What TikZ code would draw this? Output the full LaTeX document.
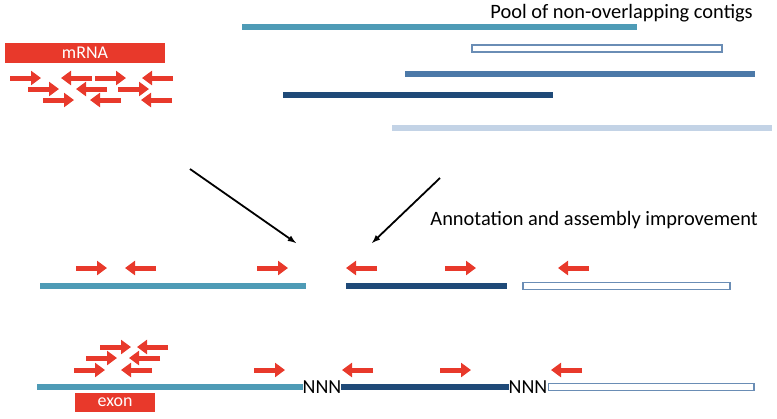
\documentclass[tikz,border=0pt]{standalone}
\usepackage{fontspec}
\setmainfont{Carlito}
\usetikzlibrary{arrows.meta}

\definecolor{readred}{HTML}{E8392B}
\definecolor{tealc}{HTML}{4E9BB6}
\definecolor{midc}{HTML}{4C79A8}
\definecolor{darkc}{HTML}{1F4A78}
\definecolor{lightc}{HTML}{C3D3E6}
\definecolor{rimc}{HTML}{6A8DB5}

\tikzset{
  read/.style={draw=readred, line width=5bp, -{Triangle[width=14bp,length=10bp]}},
  contig/.style={line width=6bp},
  hollow/.style={draw=rimc, fill=white, line width=1.3bp},
  label/.style={font=\fontsize{20.5}{22}\selectfont, inner sep=0pt},
  redbox/.style={fill=readred, text=white, inner sep=0pt, font=\fontsize{18}{20}\selectfont},
  gap/.style={font=\fontsize{20}{22}\selectfont, inner sep=0pt},
}

% a read pointing right or left, from its tail
\newcommand{\fwd}[2]{\draw[read] (#1,#2) -- ++(31,0);}
\newcommand{\rev}[2]{\draw[read] (#1,#2) -- ++(-31,0);}

\begin{document}
\begin{tikzpicture}[x=1bp,y=-1bp]
    \useasboundingbox (0,0) rectangle (777,418);

    % pool of contigs
    \node[label, anchor=base east] (pool) at (753,18) {Pool of non-overlapping contigs};
    \draw[contig, tealc] (242,27) -- (637,27);
    \draw[hollow] (472,45) rectangle (722,52);
    \draw[contig, midc] (405,74) -- (755,74);
    \draw[contig, darkc] (283,95) -- (553,95);
    \draw[contig, lightc] (392,128) -- (772,128);

    % mRNA and its reads
    \node[redbox, minimum width=160bp, minimum height=20bp] (mrna) at (85,53) {mRNA};
    \fwd{10}{78} \rev{92}{78} \fwd{95}{78} \rev{173}{78}
    \fwd{28}{89} \rev{107}{89} \fwd{118}{89}
    \fwd{43}{100} \rev{121}{100} \rev{172}{100}

    % arrows down
    \coordinate (s1) at (190,169);
    \coordinate (e1) at (296,243);
    \coordinate (s2) at (440,178);
    \coordinate (e2) at (372,243);
    \draw[->,>= latex, line width=1.8bp] (s1) -- (e1);
    \draw[->,>= latex, line width=1.8bp] (s2) -- (e2);
    \node[label, anchor=base east] (improve) at (758,225) {Annotation and assembly improvement};

    % annotated contigs
    \draw[contig, tealc] (40,286) -- (306,286);
    \draw[contig, darkc] (346,286) -- (507,286);
    \draw[hollow] (523,282.5) rectangle (730,289.5);
    \fwd{76}{268} \rev{156}{268} \fwd{257}{268}
    \rev{377}{268} \fwd{445}{268} \rev{589}{268}

    % scaffold
    \node[gap] (n1) at (322,387) {NNN};
    \node[gap] (n2) at (528,387) {NNN};
    \draw[contig, tealc] (37,387) -- (n1.west);
    \draw[contig, darkc] (n1.east) -- (n2.west);
    \draw[hollow] ([xshift=1bp]n2.east |- 0,383.5) rectangle (754,390.5);
    \node[redbox, minimum width=80bp, minimum height=19bp] (exon) at (115,402) {exon};
    \fwd{100}{347} \rev{168}{347}
    \fwd{86}{358} \rev{160}{358}
    \fwd{74}{370} \rev{152}{370}
    \fwd{254}{370} \rev{373}{370}
    \fwd{440}{370} \rev{582}{370}
\end{tikzpicture}
\end{document}
